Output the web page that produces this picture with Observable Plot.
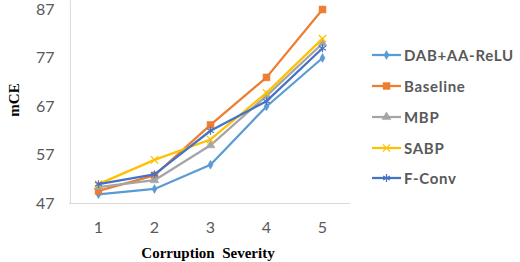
<!DOCTYPE html>
<html>
<head>
<meta charset="utf-8">
<script src="https://cdn.jsdelivr.net/npm/d3@7"></script>
<script src="https://cdn.jsdelivr.net/npm/@observablehq/plot@0.6"></script>
<style>
  html, body { margin: 0; padding: 0; background: #fff; }
  #chart { position: relative; width: 520px; height: 262px; }
  #legend { position: absolute; left: 372px; top: 40px; font-family: Lato, "Open Sans", sans-serif; font-weight: bold; font-size: 15px; color: #595959; letter-spacing: 0.7px; }
  .item { display: flex; align-items: center; height: 30.75px; }
  .item svg { margin-right: 3px; }
</style>
</head>
<body>
<div id="chart"><div id="legend"></div></div>
<script>
const severities = [1, 2, 3, 4, 5];
const seriesNames = ["DAB+AA-ReLU", "Baseline", "MBP", "SABP", "F-Conv"];
const dabValues = [48.9, 50, 55, 67, 77];
const baselineValues = [49.6, 52.8, 63.2, 73, 87];
const mbpValues = [50.4, 51.8, 59, 69.2, 80];
const sabpValues = [51, 56, 60.2, 69.8, 81];
const fconvValues = [51, 53, 62, 68.1, 79];
const yTicks = [47, 57, 67, 77, 87];
const colors = ["#5B9BD5", "#ED7D31", "#A5A5A5", "#FFC000", "#4472C4"];
const symbols = ["diamond", "square", "triangle", "times", "asterisk"];
const filled = [true, true, true, false, false];
const dotR = [2.7, 3.9, 3.3, 3.4, 3.7];

const valueLists = [dabValues, baselineValues, mbpValues, sabpValues, fconvValues];
const rows = [];
seriesNames.forEach((s, i) => severities.forEach((x, j) => rows.push({series: s, x, y: valueLists[i][j]})));

const marks = [
  Plot.ruleY([47], {stroke: "#D9D9D9", strokeWidth: 1}),
  Plot.ruleX([1], {y1: 88.8, y2: 47, stroke: "#D9D9D9", strokeWidth: 1, dx: -28.1})
];
seriesNames.forEach((s, i) => {
  const d = rows.filter(r => r.series === s);
  marks.push(Plot.line(d, {x: "x", y: "y", stroke: colors[i], strokeWidth: 2.25}));
  marks.push(Plot.dot(d, {x: "x", y: "y", symbol: () => symbols[i], r: dotR[i],
    fill: filled[i] ? colors[i] : "none", stroke: colors[i], strokeWidth: filled[i] ? 0.5 : 1.2}));
});

const plot = Plot.plot({
  width: 520,
  height: 262,
  marginLeft: 69,
  marginRight: 170,
  marginTop: 9,
  marginBottom: 59,
  style: {fontFamily: "Lato, 'Open Sans', sans-serif", fontSize: "16px", color: "#595959", background: "#fff", overflow: "visible"},
  x: {type: "point", domain: severities, padding: 0.5, label: null},
  y: {domain: [47, 87], ticks: yTicks, label: null},
  marks: [
    ...marks,
    Plot.axisX({tickSize: 0, tickPadding: 18, label: null, fontSize: 16}),
    Plot.axisY({ticks: yTicks, tickSize: 0, tickPadding: 15, label: null, fontSize: 16})
  ]
});
document.getElementById("chart").prepend(plot);

const svg = d3.select(plot);
svg.append("text")
  .attr("x", 208).attr("y", 258)
  .attr("text-anchor", "middle")
  .style("font-family", "'Liberation Serif', 'Times New Roman', serif")
  .style("font-weight", "bold").style("font-size", "15px").style("fill", "#000")
  .attr("xml:space", "preserve")
  .text("Corruption  Severity");
svg.append("text")
  .attr("transform", "translate(19,100) rotate(-90)")
  .attr("text-anchor", "middle")
  .style("font-family", "'Liberation Serif', 'Times New Roman', serif")
  .style("font-weight", "bold").style("font-size", "15px").style("fill", "#000")
  .text("mCE");

// legend
const symGen = [d3.symbolDiamond, d3.symbolSquare, d3.symbolTriangle, d3.symbolTimes, d3.symbolAsterisk];
const legend = d3.select("#legend");
seriesNames.forEach((s, i) => {
  const item = legend.append("div").attr("class", "item");
  const sv = item.append("svg").attr("width", 29).attr("height", 14);
  sv.append("line").attr("x1", 0).attr("x2", 29).attr("y1", 7).attr("y2", 7).attr("stroke", colors[i]).attr("stroke-width", 2.25);
  sv.append("path").attr("transform", "translate(14.5,7)")
    .attr("d", d3.symbol(symGen[i], dotR[i] * dotR[i] * Math.PI)())
    .attr("fill", filled[i] ? colors[i] : "none").attr("stroke", colors[i]).attr("stroke-width", filled[i] ? 0.5 : 1.2);
  item.append("span").text(s);
});
</script>
</body>
</html>
